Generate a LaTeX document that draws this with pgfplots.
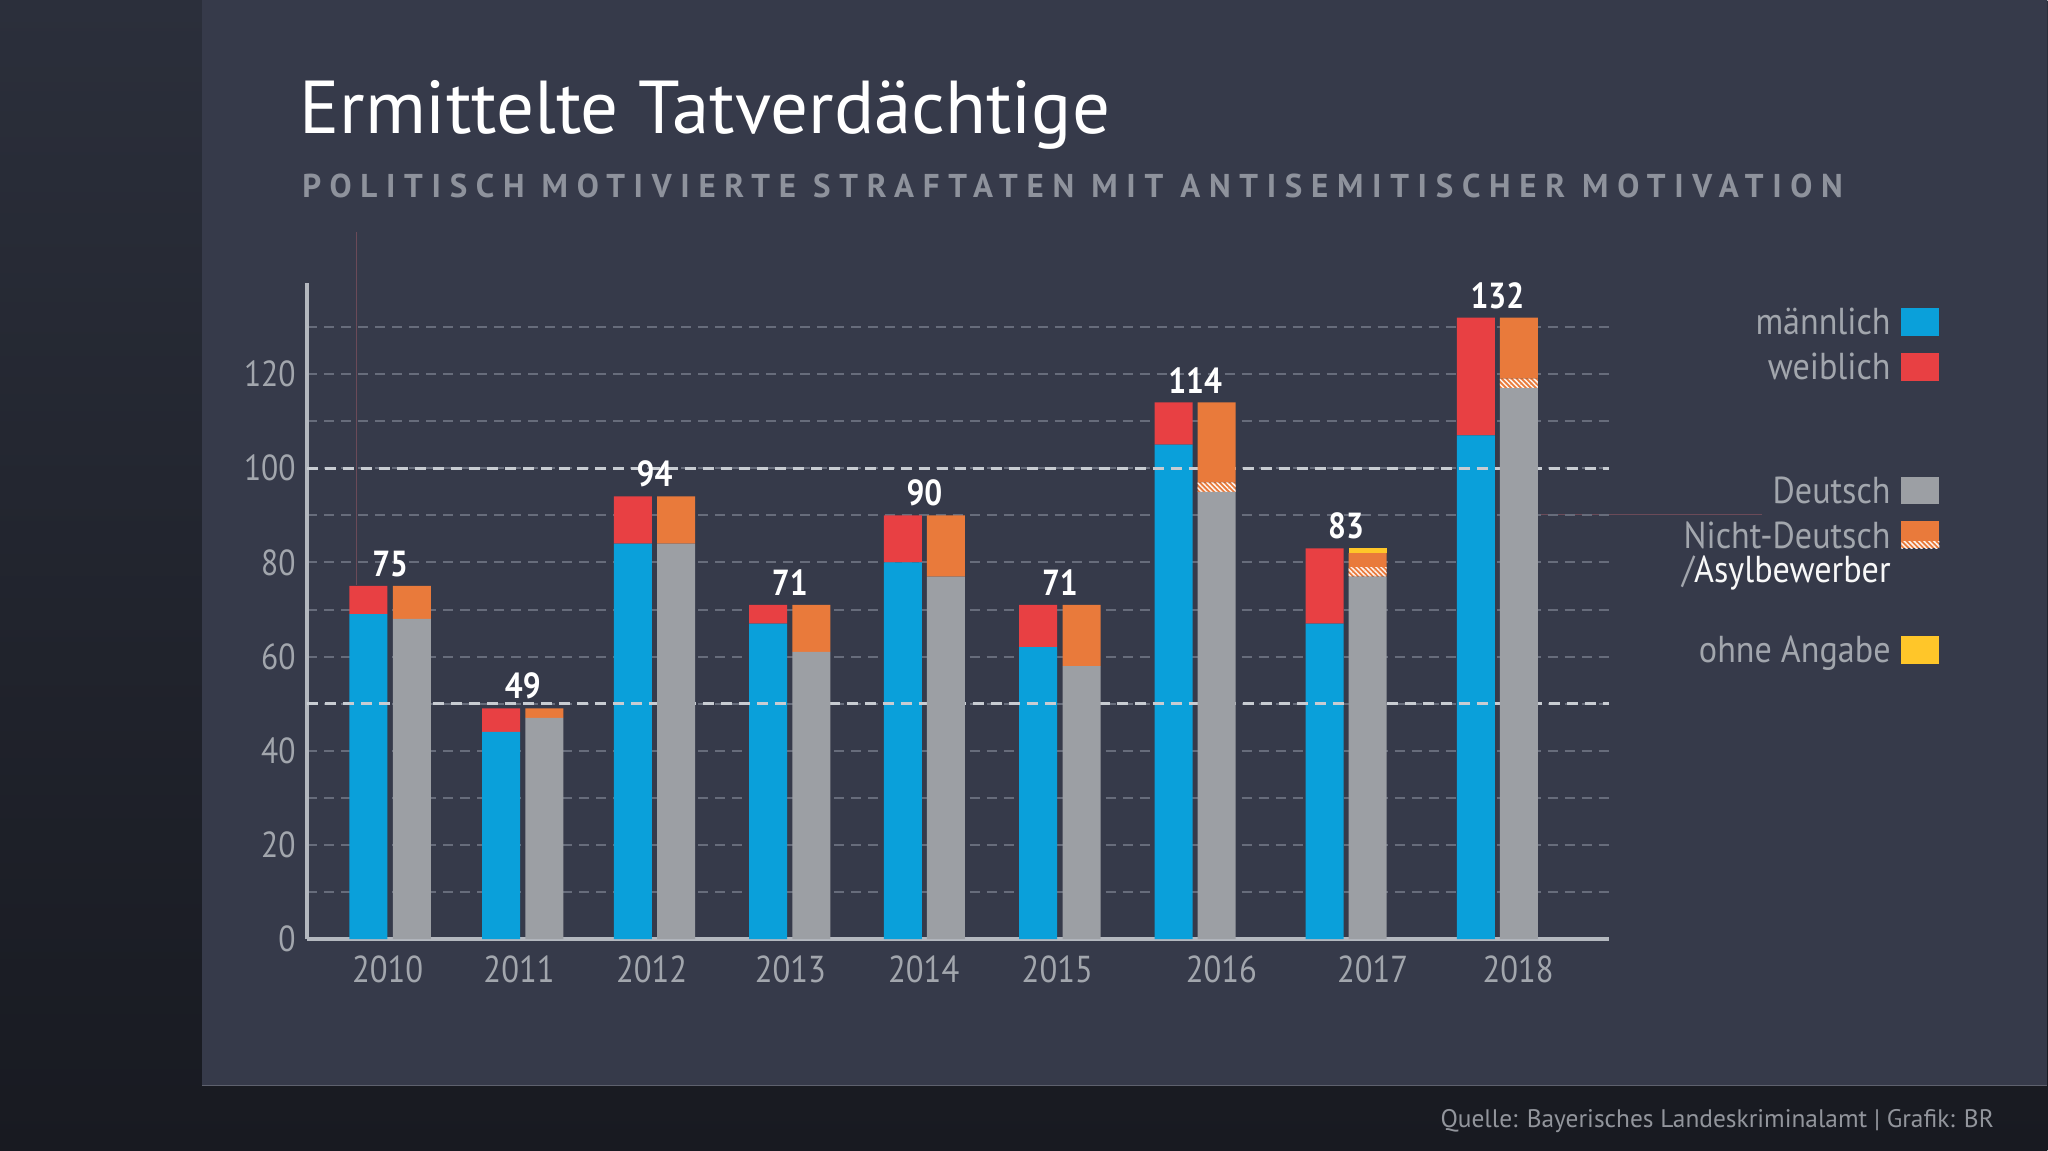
\documentclass[border=0pt]{standalone}
\usepackage{pgfplots}
\pgfplotsset{compat=1.18}
\usepackage{pgfplotstable}
\usetikzlibrary{patterns.meta}
\usepackage{fontspec}
\setmainfont{PT Sans}
\newfontfamily\tickfont[FakeStretch=0.87]{PT Sans}
\newfontfamily\legfont[FakeStretch=0.91]{PT Sans}
\definecolor{panel}{HTML}{363A4A}
\definecolor{stripTop}{HTML}{2B2F3B}
\definecolor{stripBot}{HTML}{181A21}
\definecolor{cblue}{HTML}{0AA0DA}
\definecolor{cred}{HTML}{E84043}
\definecolor{cgrey}{HTML}{9C9FA4}
\definecolor{corange}{HTML}{E97A3B}
\definecolor{cyellow}{HTML}{FFC629}
\definecolor{tgrey}{HTML}{A2A6AD}
\definecolor{sgrey}{HTML}{8E929C}
\definecolor{gridminor}{HTML}{676C7B}
\definecolor{gridmajor}{HTML}{C8CCD2}
\definecolor{axisgrey}{HTML}{B4B8BF}
\definecolor{guide}{HTML}{6B4A58}

\pgfplotstableread{
xm xg xc m w total d a nd o
368.5 412.0 390.25 69 6 75 68 0 7 0
501.2 544.6 522.9 44 5 49 47 0 2 0
633.0 676.4 654.7 84 10 94 84 0 10 0
768.3 811.7 790.0 67 4 71 61 0 10 0
903.2 946.2 924.7 80 10 90 77 0 13 0
1038.5 1081.9 1060.2 62 9 71 58 0 13 0
1174.0 1217.0 1195.5 105 9 114 95 2 17 0
1324.9 1368.1 1346.5 67 16 83 77 2 3 1
1476.3 1519.2 1497.75 107 25 132 117 2 13 0
}\data

\tikzset{hatch/.style={fill=corange, postaction={pattern={Lines[angle=-45,distance=1.4pt,line width=0.6pt]}, pattern color=white!92!corange}}}

\pgfplotsset{common/.style={
  scale only axis, width=520.8pt, height=262.7pt,
  at={(122.8pt,-375.8pt)}, anchor=south west,
  xmin=307, xmax=1609, ymin=0, ymax=139.4,
  bar width=15.2pt,
  clip=false,
}}

\begin{document}
\begin{tikzpicture}
\begin{scope}[x=0.4pt,y=-0.4pt]
  \shade[top color=stripTop, bottom color=stripBot] (0,0) rectangle (2048,1151);
  \fill[panel] (202,0) rectangle (2048,1086);
  \draw[color=panel!80!white, line width=0.5pt] (202,1086) -- (2048,1086);
  % title
  \node[anchor=base west, inner sep=0pt, text=white, font=\fontsize{30}{32}\selectfont] at (299,134) {Ermittelte Tatverdächtige};
  \node[anchor=base west, inner sep=0pt, text=sgrey, font=\fontsize{13.2}{14}\selectfont\bfseries\addfontfeature{LetterSpace=26.4}] at (302,197.3) {POLITISCH MOTIVIERTE STRAFTATEN MIT ANTISEMITISCHER MOTIVATION};
  % guides
  \draw[guide, line width=0.4pt] (357,232) -- (357,585);
  \draw[guide, line width=0.4pt] (1538,515) -- (1763,515);
  % legend
  \begin{scope}[every node/.style={anchor=base east, inner sep=0pt, text=tgrey, font=\legfont\fontsize{15}{16}\selectfont}]
    \node at (1891.7,335) {männlich};
    \node at (1891.7,380) {weiblich};
    \node at (1891.7,503.3) {Deutsch};
    \node at (1891.7,548.3) {Nicht-Deutsch};
    \node at (1891.7,583) {/\textcolor{white!92!tgrey}{Asylbewerber}};
    \node at (1891.7,662.7) {ohne Angabe};
  \end{scope}
  \fill[cblue] (1902,308.3) rectangle (1940,336);
  \fill[cred] (1902,353.3) rectangle (1940,381);
  \fill[cgrey] (1902,476.7) rectangle (1940,504.3);
  \fill[corange] (1902,520.7) rectangle (1940,541.7);
  \path[hatch] (1902,541.7) rectangle (1940,548.3);
  \fill[cyellow] (1902,636) rectangle (1940,664);
  % footer
  \node[anchor=base east, inner sep=0pt, text=tgrey!90!black, font=\fontsize{10.15}{11}\selectfont] at (1995,1128.3) {Quelle: Bayerisches Landeskriminalamt | Grafik: BR};
\end{scope}

\begin{axis}[common, ybar stacked,
  axis x line=bottom, axis y line=left,
  axis line style={-, draw=axisgrey, line width=1.4pt},
  major tick length=0pt, minor tick length=0pt,
  ytick={0,20,...,120}, minor ytick={10,30,...,130},
  ymajorgrids, yminorgrids,
  major grid style={gridminor, line width=0.8pt, dash pattern=on 4pt off 2.8pt},
  minor grid style={gridminor, line width=0.8pt, dash pattern=on 4pt off 2.8pt},
  xtick={387.8,519.2,651.9,790.6,924,1057.6,1221.7,1373,1518.5},
  xticklabels={2010,2011,2012,2013,2014,2015,2016,2017,2018},
  /pgf/number format/assume math mode=true,
  yticklabel style={text=tgrey, font=\tickfont\fontsize{14.5}{15}\selectfont, anchor=east, xshift=-1pt},
  xticklabel style={text=tgrey, font=\tickfont\fontsize{15}{16}\selectfont, anchor=north, yshift=-3pt},
  axis on top=false,
]
\draw[gridmajor, line width=1.2pt, dash pattern=on 4.4pt off 2.8pt] (axis cs:307,50) -- (axis cs:1609,50);
\draw[gridmajor, line width=1.2pt, dash pattern=on 4.4pt off 2.8pt] (axis cs:307,100) -- (axis cs:1609,100);
\addplot[fill=cblue, draw=none] table[x=xm, y=m] {\data};
\addplot[fill=cred, draw=none] table[x=xm, y=w] {\data};
\end{axis}

\begin{axis}[common, ybar stacked, hide axis]
\addplot[fill=cgrey, draw=none] table[x=xg, y=d] {\data};
\addplot[hatch, draw=none] table[x=xg, y=a] {\data};
\addplot[fill=corange, draw=none] table[x=xg, y=nd] {\data};
\addplot[fill=cyellow, draw=none] table[x=xg, y=o] {\data};
\end{axis}

\begin{axis}[common, ybar, hide axis]
\addplot[draw=none, fill=none,
  nodes near coords, point meta=explicit symbolic,
  every node near coord/.append style={anchor=south, yshift=3.4pt, inner sep=0pt, text=white, font=\tickfont\bfseries\fontsize{14.5}{15}\selectfont}
] table[x=xc, y=total, meta=total] {\data};
\end{axis}
\end{tikzpicture}
\end{document}
